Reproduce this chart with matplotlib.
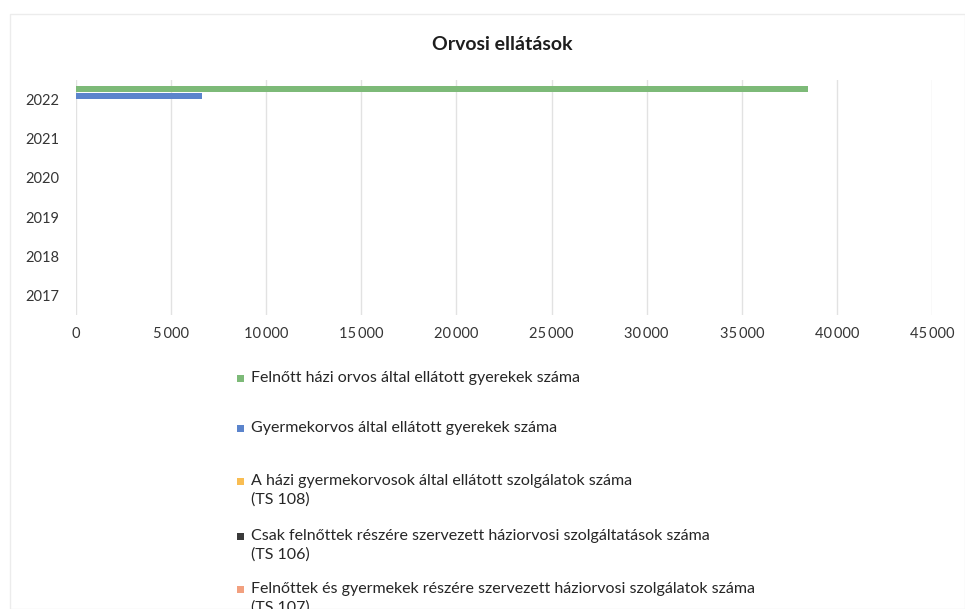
import matplotlib.pyplot as plt
from matplotlib.patches import Rectangle
from matplotlib.ticker import FuncFormatter

plt.rcParams['font.family'] = ['Lato', 'DejaVu Sans']

years = ['2017', '2018', '2019', '2020', '2021', '2022']
series = [
    'Felnőtt házi orvos által ellátott gyerekek száma',
    'Gyermekorvos által ellátott gyerekek száma',
    'A házi gyermekorvosok által ellátott szolgálatok száma\n(TS 108)',
    'Csak felnőttek részére szervezett háziorvosi szolgáltatások száma\n(TS 106)',
    'Felnőttek és gyermekek részére szervezett háziorvosi szolgálatok száma\n(TS 107)',
]
# only 2022 is filled in the source chart
felnott_gyerek = [0, 0, 0, 0, 0, 38500]
gyermekorvos_gyerek = [0, 0, 0, 0, 0, 6650]
ts108 = [0, 0, 0, 0, 0, 0]
ts106 = [0, 0, 0, 0, 0, 0]
ts107 = [0, 0, 0, 0, 0, 0]
values = [felnott_gyerek, gyermekorvos_gyerek, ts108, ts106, ts107]
colors = ['#7dba78', '#5b84cc', '#f9bd52', '#3a3a3a', '#f2a07f']

W, H = 965, 609
fig = plt.figure(figsize=(W / 100, H / 100), dpi=100)
ax = fig.add_axes([76 / W, 1 - 315 / H, (932 - 76) / W, (315 - 80) / H])

h = 0.14
offsets = [0.27, 0.09, -0.09, -0.27, -0.45]
for vals, off, c in zip(values, offsets, colors):
    ax.barh([i + off for i in range(len(years))], vals, height=h, color=c)

ax.set_xlim(0, 45000)
ax.set_ylim(-0.5, 5.5)
ax.set_yticks(range(len(years)))
ax.set_yticklabels(years)
ax.set_xticks(range(0, 45001, 5000))
ax.xaxis.set_major_formatter(FuncFormatter(lambda v, p: f'{int(v):,}'.replace(',', '\u2009')))
ax.tick_params(length=0, labelsize=10.5, colors='#353535')
ax.tick_params(axis='x', pad=9)
ax.tick_params(axis='y', pad=12)
ax.grid(axis='x', color='#e2e2e2', linewidth=1)
ax.set_axisbelow(True)
for s in ax.spines.values():
    s.set_visible(False)

fig.text(502 / W, 1 - 45 / H, 'Orvosi ellátások', ha='center', va='center',
         fontsize=14, fontweight='bold', color='#1e1e1e')

# legend drawn below the plot, handle level with the first text line
rows = [378, 428, 481, 536, 589]
for lab, c, y in zip(series, colors, rows):
    fig.patches.append(Rectangle((237 / W, 1 - (y + 4) / H), 7 / W, 7 / H,
                                 transform=fig.transFigure, facecolor=c, edgecolor='none'))
    fig.text(251 / W, 1 - (y - 7) / H, lab, ha='left', va='top', fontsize=11.5,
             linespacing=1.4, color='#262626')

fig.patches.append(Rectangle((10 / W, 0), 1 - 10 / W, 1 - 14 / H,
                             transform=fig.transFigure, fill=False,
                             edgecolor='#ececec', linewidth=1))

fig.savefig('out.png', dpi=100)
